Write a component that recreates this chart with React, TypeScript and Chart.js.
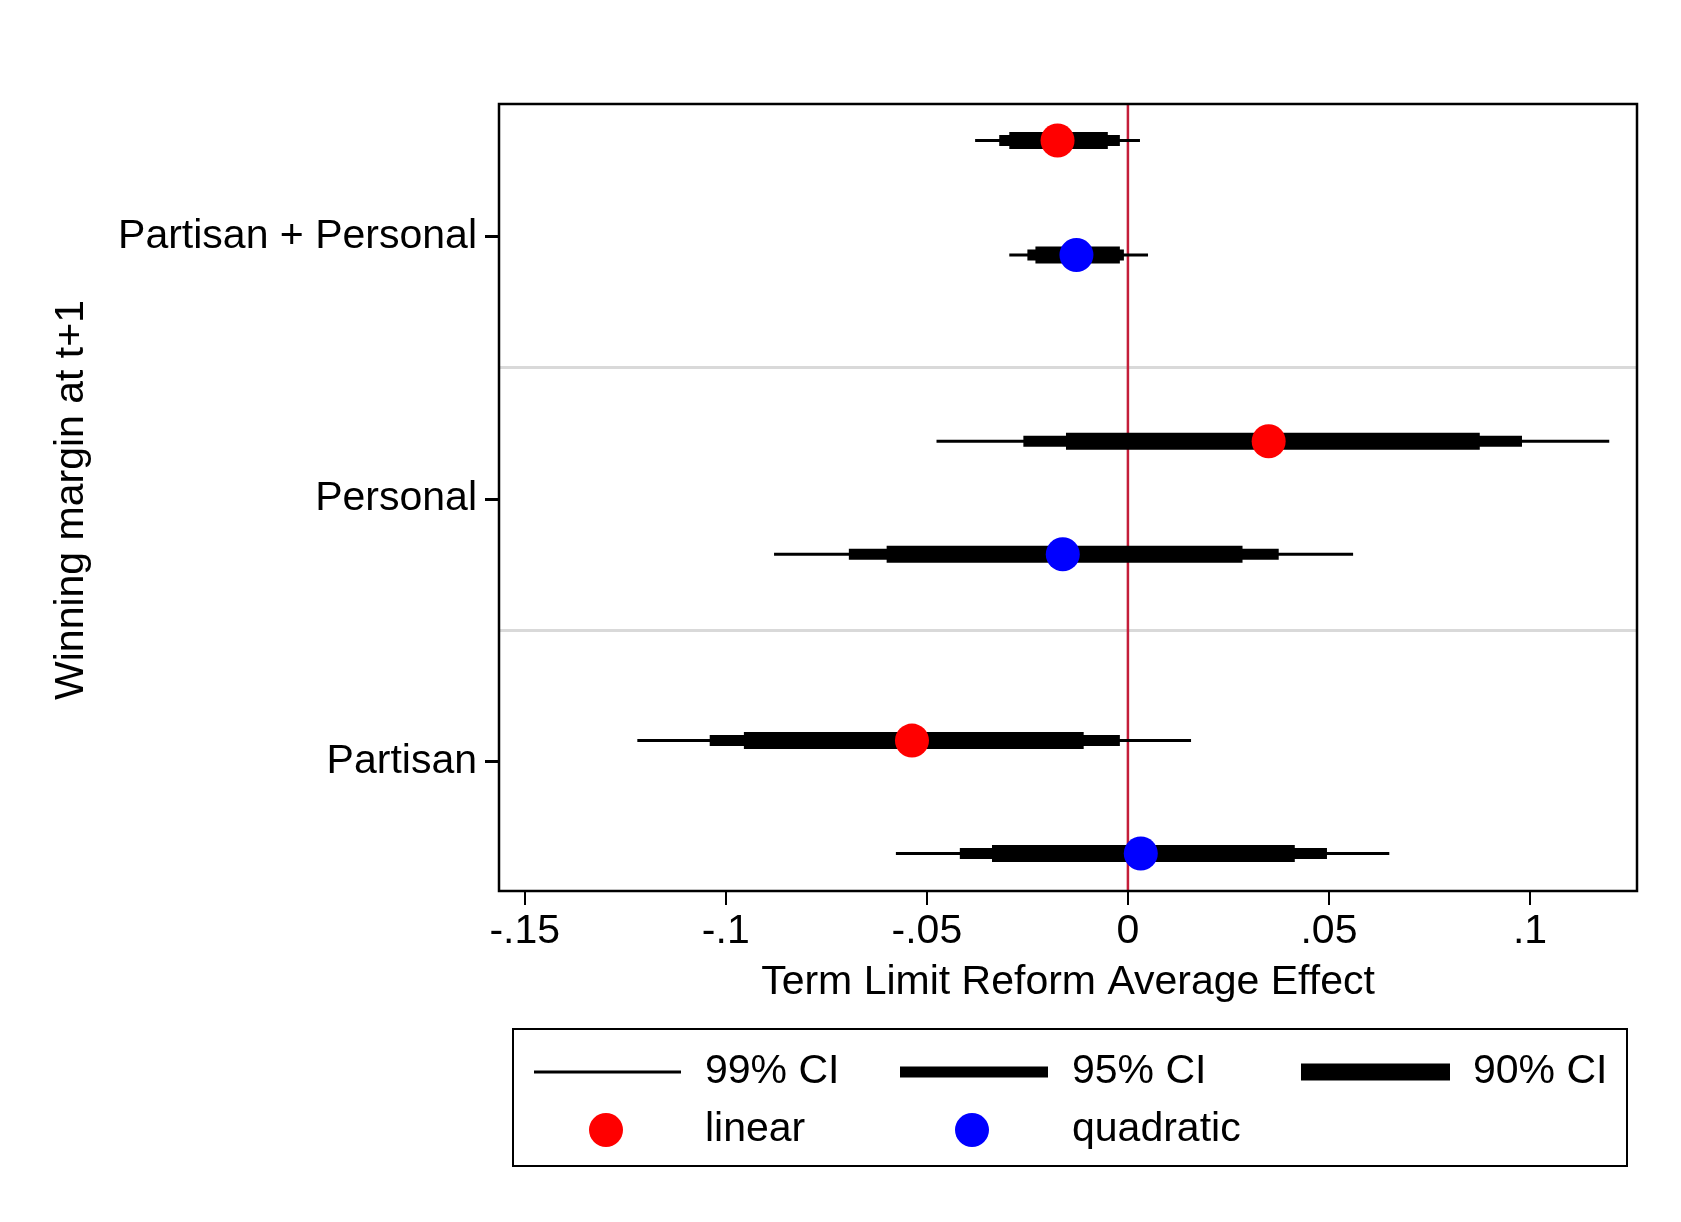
import React, { useRef, useEffect } from 'react';
import { Chart, registerables } from 'chart.js';

Chart.register(...registerables);

const categories = ['Partisan', 'Personal', 'Partisan + Personal'];
const xTicks = [-0.15, -0.1, -0.05, 0, 0.05, 0.1];

// rows: y position, estimate, 99/95/90 bounds
const rowY = [3.366, 2.93, 2.22, 1.79, 1.08, 0.65];
const model = ['linear', 'quadratic', 'linear', 'quadratic', 'linear', 'quadratic'];
const estimate = [-0.0175, -0.0128, 0.035, -0.0162, -0.0537, 0.0032];
const ci99 = [[-0.038, 0.003], [-0.0295, 0.005], [-0.0476, 0.1197], [-0.088, 0.056], [-0.122, 0.0157], [-0.0577, 0.065]];
const ci95 = [[-0.032, -0.002], [-0.025, -0.001], [-0.026, 0.098], [-0.0694, 0.0375], [-0.104, -0.002], [-0.0418, 0.0495]];
const ci90 = [[-0.0295, -0.005], [-0.023, -0.002], [-0.0154, 0.0875], [-0.06, 0.0285], [-0.0955, -0.011], [-0.0338, 0.0415]];

const FONT = '"Liberation Sans", Arial, sans-serif';
const FS = 41;
const colorOf = (m: string) => (m === 'linear' ? '#ff0000' : '#0000ff');
const fmt = (v: number) => {
  if (Math.abs(v) < 1e-9) return '0';
  const s = String(Math.round(v * 100) / 100);
  return s.replace('0.', '.');
};

const frame = {
  id: 'frame',
  afterDraw(chart: any) {
    const { ctx, chartArea: a } = chart;
    ctx.save();
    ctx.strokeStyle = '#000';
    ctx.lineWidth = 2.5;
    ctx.strokeRect(a.left, a.top, a.right - a.left, a.bottom - a.top);
    // y title
    ctx.font = `${FS}px ${FONT}`;
    ctx.fillStyle = '#000';
    ctx.textAlign = 'center';
    ctx.textBaseline = 'middle';
    ctx.save();
    ctx.translate(72, 500);
    ctx.rotate(-Math.PI / 2);
    ctx.fillText('Winning margin at t+1', 0, 0);
    ctx.restore();
    ctx.textAlign = 'left';
    // legend
    const bx = 513, by = 1029, bw = 1114, bh = 137;
    ctx.lineWidth = 2;
    ctx.strokeRect(bx, by, bw, bh);
    const r1 = 1072, r2 = 1130;
    const lines: [number, number, number, string][] = [
      [534, 681, 3, '99% CI'],
      [900, 1048, 11, '95% CI'],
      [1301, 1450, 17, '90% CI'],
    ];
    const txt = [705, 1072, 1473];
    lines.forEach(([x0, x1, w, t], i) => {
      ctx.lineWidth = w;
      ctx.beginPath();
      ctx.moveTo(x0, r1);
      ctx.lineTo(x1, r1);
      ctx.stroke();
      ctx.fillText(t, txt[i], r1);
    });
    [['linear', 606, 705], ['quadratic', 972, 1072]].forEach(([m, cx, tx]: any) => {
      ctx.fillStyle = colorOf(m);
      ctx.beginPath();
      ctx.arc(cx, r2, 17, 0, Math.PI * 2);
      ctx.fill();
      ctx.fillStyle = '#000';
      ctx.fillText(m, tx, r2);
    });
    ctx.restore();
  },
};

export default function App() {
  const ref = useRef<HTMLCanvasElement>(null);

  useEffect(() => {
    if (!ref.current) return;
    document.body.style.margin = '0';
    const datasets: any[] = [];
    // first dataset is drawn on top
    datasets.push({
      data: estimate.map((v, i) => ({ x: v, y: rowY[i] })),
      pointRadius: 17,
      pointBackgroundColor: model.map(colorOf),
      pointBorderWidth: 0,
      showLine: false,
    });
    const addCi = (ci: number[][], w: number) =>
      ci.forEach((c, i) =>
        datasets.push({
          data: [{ x: c[0], y: rowY[i] }, { x: c[1], y: rowY[i] }],
          borderColor: '#000',
          borderWidth: w,
          borderCapStyle: 'butt',
          pointRadius: 0,
          showLine: true,
        })
      );
    addCi(ci90, 17);
    addCi(ci95, 11);
    addCi(ci99, 3);
    datasets.push({
      data: [{ x: 0, y: 0.4 }, { x: 0, y: 3.6 }],
      borderColor: '#c41e3a',
      borderWidth: 2.5,
      pointRadius: 0,
      showLine: true,
    });

    const chart = new Chart(ref.current, {
      type: 'scatter',
      data: { datasets },
      plugins: [frame],
      options: {
        animation: false,
        responsive: false,
        layout: { padding: { top: 104, right: 44, bottom: 211, left: 0 } },
        plugins: { legend: { display: false }, tooltip: { enabled: false } },
        scales: {
          x: {
            min: -0.1564,
            max: 0.1266,
            afterBuildTicks: (s: any) => { s.ticks = xTicks.map((v) => ({ value: v })); },
            afterFit: (s: any) => { s.height = 120; },
            border: { display: false },
            grid: { drawOnChartArea: false, color: '#000', tickLength: 14, lineWidth: 2 },
            ticks: { color: '#000', font: { family: FONT, size: FS }, padding: 2, callback: (v: any) => fmt(Number(v)), maxRotation: 0, autoSkip: false },
            title: { display: true, text: 'Term Limit Reform Average Effect', color: '#000', font: { family: FONT, size: FS }, padding: { top: 0 } },
          },
          y: {
            min: 0.507,
            max: 3.505,
            afterBuildTicks: (s: any) => { s.ticks = [1, 1.5, 2, 2.5, 3].map((v) => ({ value: v })); },
            afterFit: (s: any) => { s.width = 499; },
            border: { display: false },
            grid: {
              color: (c: any) => (Number.isInteger(c.tick?.value) ? 'rgba(0,0,0,0)' : '#d9d9d9'),
              tickColor: (c: any) => (Number.isInteger(c.tick?.value) ? '#000' : 'rgba(0,0,0,0)'),
              lineWidth: 3,
              tickLength: 14,
            },
            ticks: {
              color: '#000',
              font: { family: FONT, size: FS },
              padding: 8,
              autoSkip: false,
              callback: (v: any) => (Number.isInteger(v) ? categories[v - 1] : ''),
            },
            title: { display: false },
          },
        },
      },
    } as any);
    return () => { chart.destroy(); };
  }, []);

  return <canvas ref={ref} width={1681} height={1222} style={{ display: 'block', background: '#fff' }} />;
}
